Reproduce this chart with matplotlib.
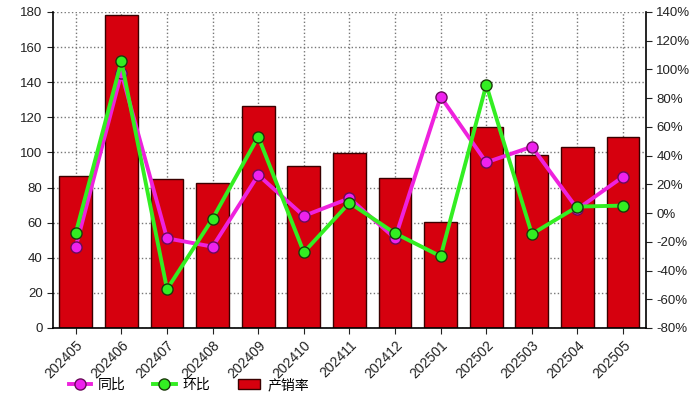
"""
产销率 / 同比 / 环比 组合图
"""

import numpy as np
import matplotlib.pyplot as plt
from matplotlib.ticker import FuncFormatter

plt.rcParams['font.family'] = ['Liberation Sans', 'Noto Sans CJK SC', 'DejaVu Sans']

months = ['202405', '202406', '202407', '202408', '202409', '202410', '202411',
          '202412', '202501', '202502', '202503', '202504', '202505']
chanxiaolv = [86.6, 178, 85, 82.4, 126.5, 92.5, 99.7, 85.6, 60.2, 114.5, 98.6, 103.3, 109]
tongbi = [-23.4, 97.5, -17.6, -23.4, 26.5, -2, 10.3, -17.6, 81, 35.3, 46.2, 2.8, 25.3]
huanbi = [-13.7, 105.6, -53, -3.9, 53.2, -27.3, 7.2, -14.1, -30.1, 89.2, -14.6, 4.5, 5.2]

x = np.arange(len(months))

fig = plt.figure(figsize=(6.93, 3.99), dpi=100)
ax1 = fig.add_axes([0.0765, 0.178, 0.8555, 0.792])

# barras
bars = ax1.bar(x, chanxiaolv, width=0.72, color='#d6000e', edgecolor='#3a0000',
               linewidth=1.0, label='产销率', zorder=2)
ax1.set_xlim(-0.5, len(months) - 0.5)
ax1.set_ylim(0, 180)
ax1.set_yticks(np.arange(0, 181, 20))
ax1.set_xticks(x)
ax1.set_xticklabels(months, rotation=45, ha='right', rotation_mode='anchor', fontsize=10)
ax1.tick_params(axis='y', labelsize=9.5, direction='out', length=4, colors='#222222')
ax1.tick_params(axis='x', direction='out', length=4, colors='#222222')
ax1.set_axisbelow(True)
ax1.grid(True, linestyle=':', color='#777777', linewidth=1.0)
ax1.spines['top'].set_visible(False)
ax1.spines['right'].set_visible(False)
ax1.spines['left'].set_linewidth(1.2)
ax1.spines['bottom'].set_linewidth(1.2)

# linhas (eixo direito)
ax2 = ax1.twinx()
l_tb, = ax2.plot(x, tongbi, color='#ee22dd', linewidth=2.8, marker='o', markersize=8,
                 markerfacecolor='#ee22ee', markeredgecolor='#6a0a5a',
                 markeredgewidth=1.0, label='同比', zorder=3)
l_hb, = ax2.plot(x, huanbi, color='#33ee22', linewidth=2.8, marker='o', markersize=8,
                 markerfacecolor='#33ee22', markeredgecolor='#1a3a0a',
                 markeredgewidth=1.0, label='环比', zorder=4)
ax2.set_ylim(-80, 140)
ax2.set_yticks(np.arange(-80, 141, 20))
ax2.yaxis.set_major_formatter(FuncFormatter(lambda v, p: '%d%%' % v))
ax2.tick_params(axis='y', labelsize=9.5, direction='out', length=4, colors='#222222')
ax2.spines['top'].set_visible(False)
ax2.spines['left'].set_visible(False)
ax2.spines['bottom'].set_visible(False)
ax2.spines['right'].set_linewidth(1.2)

fig.legend([l_tb, l_hb, bars], ['同比', '环比', '产销率'], loc='center left',
           bbox_to_anchor=(0.081, 0.035), ncol=3, frameon=False, fontsize=10,
           handlelength=1.6, handletextpad=0.5, columnspacing=2.0)

plt.savefig('out.png', dpi=100)
